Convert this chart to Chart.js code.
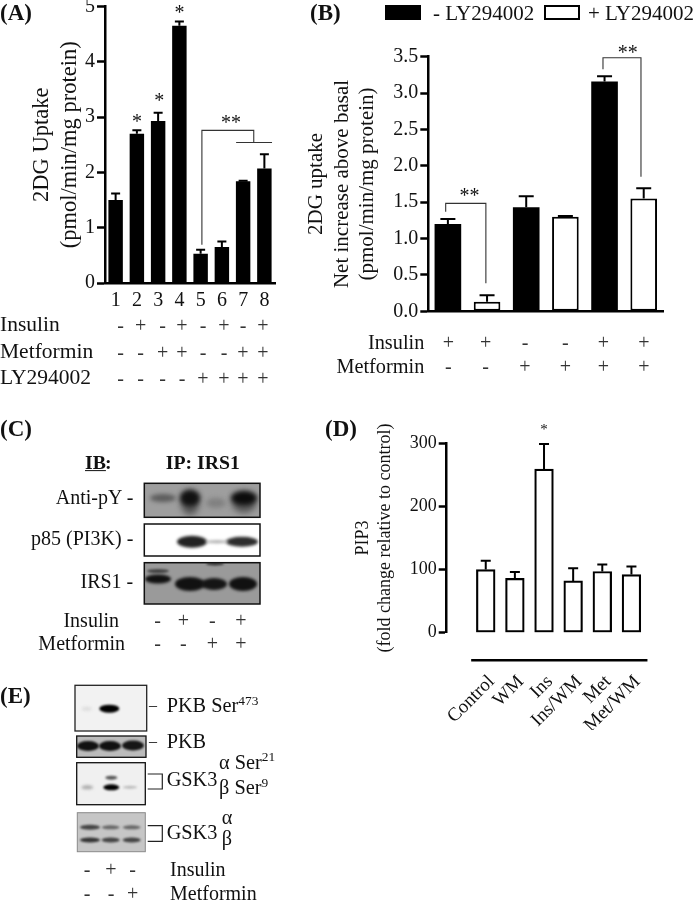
<!DOCTYPE html>
<html lang="en">
<head>
  <meta charset="UTF-8" />
  <title>2DG uptake, PIP3 and immunoblots</title>
  <script src="https://cdn.jsdelivr.net/npm/chart.js"></script>
  <style>
    html, body { margin: 0; background: #fff; }
    #page { position: relative; width: 693px; height: 900px; overflow: hidden; font-family: "Liberation Serif", serif; color: #111; }
    #page canvas { position: absolute; }
    .t { position: absolute; white-space: nowrap; line-height: 1; }
    .box { position: absolute; box-sizing: border-box; }
    sup { font-size: 66%; vertical-align: baseline; position: relative; top: -0.55em; }
  </style>
</head>
<body>
<div id="page">
  <canvas id="blots" width="693" height="900" style="left:0;top:0"></canvas>
  <canvas id="chartA" width="330" height="320" style="left:0;top:0"></canvas>
  <canvas id="chartB" width="393" height="335" style="left:300px;top:0"></canvas>
  <canvas id="chartD" width="353" height="330" style="left:340px;top:400px"></canvas>
</div>

<script>
// panel A
const aLabels = ['1', '2', '3', '4', '5', '6', '7', '8'];
const aValues = [1.50, 2.70, 2.93, 4.65, 0.53, 0.65, 1.84, 2.07];
const aUpper = [1.62, 2.76, 3.08, 4.73, 0.60, 0.75, 1.85, 2.33];
const aInsulin = ['-', '+', '-', '+', '-', '+', '-', '+'];
const aMetformin = ['-', '-', '+', '+', '-', '-', '+', '+'];
const aLY = ['-', '-', '-', '-', '+', '+', '+', '+'];

// panel B
const bLabels = ['Ins', 'Ins LY', 'Met', 'Met LY', 'Ins/Met', 'Ins/Met LY'];
const bMinusLY = [1.20, null, 1.43, null, 3.16, null];
const bPlusLY = [null, 0.13, null, 1.30, null, 1.55];
const bUpper = [1.27, 0.22, 1.58, 1.31, 3.23, 1.69];
const bInsulin = ['+', '+', '-', '-', '+', '+'];
const bMetformin = ['-', '-', '+', '+', '+', '+'];

// panel D
const dLabels = ['Control', 'WM', 'Ins', 'Ins/WM', 'Met', 'Met/WM'];
const dValues = [100, 86, 259, 82, 97, 92];
const dUpper = [114, 96, 299, 102, 108, 105];

// panel C / E sign rows
const cInsulin = ['-', '+', '-', '+'];
const cMetformin = ['-', '-', '+', '+'];
const eInsulin = ['-', '+', '-'];
const eMetformin = ['-', '-', '+'];

const SERIF = '"Liberation Serif", serif';
const page = document.getElementById('page');

function txt(x, y, str, size, opts) {
  opts = opts || {};
  const el = document.createElement('div');
  el.className = 't';
  el.innerHTML = str;
  el.style.left = x + 'px';
  el.style.top = y + 'px';
  el.style.fontSize = size + 'px';
  if (opts.bold) el.style.fontWeight = 'bold';
  if (opts.underline) el.style.textDecoration = 'underline';
  if (opts.color) el.style.color = opts.color;
  const tx = opts.align === 'right' ? '-100%' : opts.align === 'center' ? '-50%' : '0';
  el.style.transform = 'translate(' + tx + ',-50%)';
  page.appendChild(el);
}

function signRow(signs, xs, y) {
  signs.forEach((s, i) => txt(xs[i], y, s, 20, { align: 'center', color: '#333' }));
}

// error bars, brackets and stars, placed with the chart's own scales
function marks(upper, capW, lineW, brackets, stars, starSize) {
  return {
    id: 'marks',
    afterDatasetsDraw(chart) {
      const x = chart.scales.x, y = chart.scales.y, ctx = chart.ctx;
      const first = chart.data.labels.length ? 0 : 1; // panel D has linear x from 1
      ctx.save();
      ctx.strokeStyle = '#000';
      ctx.lineWidth = lineW;
      upper.forEach((u, i) => {
        const px = x.getPixelForValue(i + first);
        const top = y.getPixelForValue(u);
        const vals = chart.data.datasets.map(d => d.data[i]).filter(v => v != null);
        const val = typeof vals[0] === 'object' ? vals[0].y : vals[0];
        ctx.beginPath();
        ctx.moveTo(px, y.getPixelForValue(val));
        ctx.lineTo(px, top);
        ctx.moveTo(px - capW / 2, top);
        ctx.lineTo(px + capW / 2, top);
        ctx.stroke();
      });
      ctx.strokeStyle = '#333';
      ctx.lineWidth = 1.1;
      brackets.forEach(line => {
        ctx.beginPath();
        line.forEach((p, i) => {
          const px = x.getPixelForValue(p[0]), py = y.getPixelForValue(p[1]);
          if (i) ctx.lineTo(px, py); else ctx.moveTo(px, py);
        });
        ctx.stroke();
      });
      ctx.fillStyle = '#111';
      ctx.font = starSize + 'px ' + SERIF;
      ctx.textAlign = 'center';
      stars.forEach(s => {
        ctx.fillText(s[2], x.getPixelForValue(s[0]), y.getPixelForValue(s[1]) + starSize * 0.47);
      });
      ctx.restore();
    }
  };
}

function yScale(max, step, width, titleLines, titleSize, lineH, titlePad, tickSize, fmt) {
  return {
    min: 0, max: max,
    border: { display: true, color: '#000', width: 2.5 },
    grid: { display: true, drawOnChartArea: false, drawTicks: true, tickLength: 8, tickWidth: 2.5, tickColor: '#000' },
    ticks: { stepSize: step, color: '#111', padding: 2, font: { family: SERIF, size: tickSize }, callback: fmt },
    title: { display: true, text: titleLines, color: '#111', padding: { top: titlePad, bottom: 0 },
      font: { family: SERIF, size: titleSize, lineHeight: lineH / titleSize } },
    afterFit(s) { s.width = width; s.paddingTop = 0; s.paddingBottom = 0; }
  };
}

const baseOpts = { responsive: false, animation: false, plugins: { legend: { display: false }, tooltip: { enabled: false } } };

// (A)
new Chart(document.getElementById('chartA'), {
  type: 'bar',
  data: { labels: aLabels, datasets: [{ data: aValues, backgroundColor: '#000', categoryPercentage: 1, barPercentage: 0.68 }] },
  options: Object.assign({}, baseOpts, {
    layout: { padding: { top: 6.5, right: 55, left: 0, bottom: 0 } },
    scales: {
      x: {
        border: { display: true, color: '#000', width: 2.5 },
        grid: { display: false, drawTicks: false },
        ticks: { color: '#111', maxRotation: 0, autoSkip: false, padding: 6, font: { family: SERIF, size: 20 } },
        afterFit(s) { s.height = 37; s.paddingLeft = 0; s.paddingRight = 0; }
      },
      y: yScale(5, 1, 105, ['2DG Uptake', '(pmol/min/mg protein)'], 22.5, 28, 28, 20)
    }
  }),
  plugins: [marks(aUpper, 9, 2,
    [[[4.06, 0.69], [4.06, 2.76], [6.5, 2.76], [6.5, 2.54]], [[5.67, 2.54], [7.36, 2.54]]],
    [[1, 2.97, '*'], [2.05, 3.35, '*'], [3, 4.95, '*'], [5.43, 2.95, '**']], 20)]
});

// (B)
new Chart(document.getElementById('chartB'), {
  type: 'bar',
  data: {
    labels: bLabels,
    datasets: [
      { label: '- LY294002', data: bMinusLY, backgroundColor: '#000', grouped: false, categoryPercentage: 1, barPercentage: 0.68 },
      { label: '+ LY294002', data: bPlusLY, backgroundColor: '#fff', borderColor: '#000', borderWidth: 2, borderSkipped: false, grouped: false, categoryPercentage: 1, barPercentage: 0.68 }
    ]
  },
  options: Object.assign({}, baseOpts, {
    layout: { padding: { top: 56.7, right: 29.7, left: 0, bottom: 0 } },
    scales: {
      x: {
        border: { display: true, color: '#000', width: 2.5 },
        grid: { display: false },
        ticks: { display: false },
        afterFit(s) { s.height = 23.7; s.paddingLeft = 0; s.paddingRight = 0; }
      },
      y: yScale(3.5, 0.5, 128.3, ['2DG uptake', 'Net increase above basal', '(pmol/min/mg protein)'], 21, 25.3, 4.2, 20, v => v.toFixed(1))
    }
  }),
  plugins: [marks(bUpper, 15, 2,
    [[[-0.056, 1.37], [-0.056, 1.484], [0.97, 1.484], [0.97, 0.385]], [[3.96, 3.326], [3.96, 3.485], [4.93, 3.485], [4.93, 1.85]]],
    [[0.55, 1.63, '**'], [4.59, 3.6, '**']], 20)]
});

// (D) linear x so the y axis can stand clear of the first bar
const dPoints = dValues.map((v, i) => ({ x: i + 1, y: v }));
const dBase = {
  id: 'dBase',
  afterDraw(chart) {
    const x = chart.scales.x, ctx = chart.ctx;
    ctx.save();
    ctx.strokeStyle = '#000';
    ctx.lineWidth = 2.5;
    ctx.beginPath();
    ctx.moveTo(x.getPixelForValue(0.5), chart.chartArea.bottom + 27.6);
    ctx.lineTo(x.getPixelForValue(6.55), chart.chartArea.bottom + 27.6);
    ctx.stroke();
    ctx.restore();
  }
};
new Chart(document.getElementById('chartD'), {
  type: 'bar',
  data: { datasets: [{ data: dPoints, backgroundColor: '#fff', borderColor: '#000', borderWidth: 2.2, borderSkipped: false, barThickness: 18.7 }] },
  options: Object.assign({}, baseOpts, {
    layout: { padding: { top: 43.3, right: 47, left: 0, bottom: 0 } },
    scales: {
      x: {
        type: 'linear', min: -0.34, max: 6.5, bounds: 'data', offset: false,
        border: { display: false },
        grid: { display: false, offset: false },
        ticks: {
          autoSkip: false, minRotation: 45, maxRotation: 45,
          color: '#111', padding: 30, labelOffset: 6, font: { family: SERIF, size: 19 },
          callback: v => dLabels[v - 1]
        },
        afterBuildTicks(s) { s.ticks = dLabels.map((l, i) => ({ value: i + 1 })); },
        afterFit(s) { s.height = 97.3; s.paddingLeft = 0; s.paddingRight = 0; }
      },
      y: yScale(300, 100, 106.7, ['PIP3', '(fold change relative to control)'], 18, 22, 12.3, 18)
    }
  }),
  plugins: [marks(dUpper, 10, 2, [], [[3, 326, '*']], 15), dBase]
});

// panel letters
txt(0, 12, '(A)', 23, { bold: true });
txt(310, 12, '(B)', 23, { bold: true });
txt(0, 428, '(C)', 23, { bold: true });
txt(325, 428, '(D)', 23, { bold: true });
txt(0, 695, '(E)', 23, { bold: true });

// A rows
const aSignX = [120.7, 140.7, 162.7, 182, 203, 224, 243, 263];
txt(0, 325, 'Insulin', 21.5);
txt(0, 351.7, 'Metformin', 21.5);
txt(0, 378, 'LY294002', 21.5);
signRow(aInsulin, aSignX, 325);
signRow(aMetformin, aSignX, 351.7);
signRow(aLY, aSignX, 378);

// B legend and rows
function legendBox(x, filled) {
  const b = document.createElement('div');
  b.className = 'box';
  b.style.cssText = 'left:' + x + 'px;top:4.5px;width:36px;height:15px;border:2.5px solid #000;background:' + (filled ? '#000' : '#fff');
  page.appendChild(b);
}
legendBox(385, true);
legendBox(544, false);
txt(433, 12.5, '- LY294002', 21);
txt(588, 12.5, '+ LY294002', 21);
const bSignX = [448.3, 485.7, 525, 565.3, 603.3, 644];
txt(424.3, 341.7, 'Insulin', 20.3, { align: 'right' });
txt(424.3, 366, 'Metformin', 20.3, { align: 'right' });
signRow(bInsulin, bSignX, 341.7);
signRow(bMetformin, bSignX, 366);

// C labels
txt(85, 462.7, 'IB', 19.8, { bold: true, underline: true });
txt(105, 462.7, ':', 19.8, { bold: true });
txt(165.7, 462.7, 'IP: IRS1', 19.8, { bold: true });
txt(133.3, 496.7, 'Anti-pY -', 20, { align: 'right' });
txt(133.3, 538, 'p85 (PI3K) -', 20, { align: 'right' });
txt(133.3, 580.7, 'IRS1 -', 20, { align: 'right' });
txt(119, 620, 'Insulin', 20, { align: 'right' });
txt(125, 643, 'Metformin', 20, { align: 'right' });
const cSignX = [157.7, 183.3, 212.3, 241];
signRow(cInsulin, cSignX, 620);
signRow(cMetformin, cSignX, 643);

// E labels
txt(149, 705, '–', 16);
txt(166.7, 705, 'PKB Ser<sup>473</sup>', 20.3);
txt(149, 741, '–', 16);
txt(166.7, 741, 'PKB', 20.3);
txt(219, 761.7, 'α Ser<sup>21</sup>', 20.3);
txt(219, 787, 'β Ser<sup>9</sup>', 20.3);
txt(166.7, 779.3, 'GSK3', 20.3);
txt(166.7, 832.3, 'GSK3', 20.3);
txt(221.7, 816.7, 'α', 20.3);
txt(221.7, 838.3, 'β', 20.3);
const eSignX = [87, 111, 132.7];
txt(170, 869, 'Insulin', 20);
txt(170, 893, 'Metformin', 20);
signRow(eInsulin, eSignX, 869);
signRow(eMetformin, eSignX, 893);

// blots are photographs in the source, so just soft shapes here
const bc = document.getElementById('blots').getContext('2d');
function blot(x0, y0, x1, y1, bg, edge, edgeW, bands) {
  bc.save();
  bc.beginPath();
  bc.rect(x0, y0, x1 - x0, y1 - y0);
  bc.clip();
  bc.fillStyle = bg;
  bc.fillRect(x0, y0, x1 - x0, y1 - y0);
  bands.forEach(b => {
    bc.filter = 'blur(' + (b[5] || 1.5) + 'px)';
    bc.fillStyle = b[4];
    bc.beginPath();
    bc.ellipse(b[0], b[1], b[2], b[3], 0, 0, Math.PI * 2);
    bc.fill();
  });
  bc.restore();
  bc.strokeStyle = edge;
  bc.lineWidth = edgeW;
  bc.strokeRect(x0, y0, x1 - x0, y1 - y0);
}
function bracket(x0, x1, y0, y1) {
  bc.strokeStyle = '#222';
  bc.lineWidth = 1.2;
  bc.beginPath();
  bc.moveTo(x0, y0); bc.lineTo(x1, y0); bc.lineTo(x1, y1); bc.lineTo(x0, y1);
  bc.stroke();
}
blot(144.3, 483.3, 260, 517.3, '#9e9e9e', '#111', 1.5, [
  [163, 498, 13, 4, '#5c5c5c', 2], [190, 503, 9, 12, '#555', 3], [190, 498, 10, 8, '#111', 2.5],
  [216, 503, 10, 5, '#808080', 2.5], [244, 503, 12, 10, '#555', 3], [244, 498, 13, 7, '#0c0c0c', 2.5]
]);
blot(144.3, 524, 260, 556, '#fff', '#111', 1.5, [
  [192, 541.7, 15, 6, '#222', 1.5], [242, 541.7, 16, 5, '#2c2c2c', 1.5], [217, 541.7, 12, 1.5, '#aaa', 1.5]
]);
blot(144.3, 562.7, 260, 604, '#9a9a9a', '#111', 1.5, [
  [158, 571, 11, 2, '#444', 1], [158, 579, 13, 4.5, '#111', 1.5], [190, 584, 15, 7, '#111', 1.5],
  [214, 584, 13, 6, '#151515', 1.5], [243, 584, 14, 7, '#111', 1.5], [215, 564, 9, 1.5, '#333', 1]
]);
blot(75, 685.3, 146.7, 731, '#f2f2f2', '#222', 1.3, [
  [86.7, 708.7, 5, 2, '#ddd', 1.5], [109.3, 708.7, 10, 4, '#000', 1.2]
]);
blot(76.7, 736, 146, 757.3, '#bbb', '#111', 1.3, [
  [88, 746, 11, 5, '#111', 1.2], [110, 746, 11, 5, '#111', 1.2], [133, 745.5, 11, 5, '#161616', 1.2]
]);
blot(76.7, 762.7, 145.3, 804.7, '#f0f0f0', '#111', 1.3, [
  [87.3, 787.3, 6, 2, '#aaa', 1.5], [111.3, 787.3, 8, 3, '#000', 1], [111.3, 777.7, 6, 2, '#555', 1],
  [130, 787.3, 7, 1.5, '#bbb', 1.2]
]);
blot(77.3, 812.7, 145.3, 851.7, '#c6c6c6', '#888', 1, [
  [90, 827.3, 10, 2.5, '#444', 1.2], [110.7, 827.3, 9, 2, '#666', 1.2], [131.7, 827.3, 9, 2, '#666', 1.2],
  [90, 840, 10, 2.5, '#333', 1.2], [110.7, 840, 9, 2.5, '#444', 1.2], [131.7, 840, 9, 2.5, '#444', 1.2]
]);
bracket(147.7, 162.3, 774, 789);
bracket(147.7, 162.3, 825.7, 841.3);
</script>
</body>
</html>
